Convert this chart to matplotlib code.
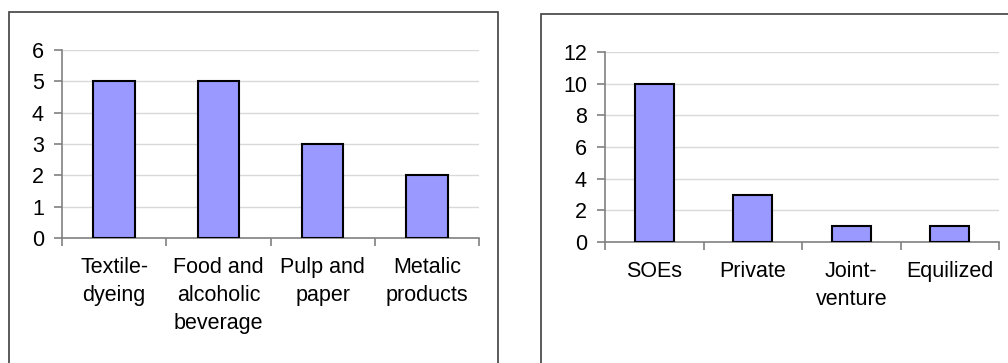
import matplotlib
matplotlib.use("Agg")
import matplotlib.pyplot as plt
from matplotlib.patches import Rectangle

plt.rcParams["font.family"] = ["Liberation Sans", "DejaVu Sans"]

# left chart: industries
industries = ["Textile-\ndyeing", "Food and\nalcoholic\nbeverage", "Pulp and\npaper", "Metalic\nproducts"]
industry_counts = [5, 5, 3, 2]
industry_ticks = [0, 1, 2, 3, 4, 5, 6]

# right chart: ownership
ownership = ["SOEs", "Private", "Joint-\nventure", "Equilized"]
ownership_counts = [10, 3, 1, 1]
ownership_ticks = [0, 2, 4, 6, 8, 10, 12]

W, H = 1008, 363
BAR_COLOR = "#9999FF"
GRID_COLOR = "#D9D9D9"
AXIS_COLOR = "#808080"
FS = 15.5


def px_axes(fig, x0, y0, x1, y1):
    # pixel box (top-left origin) -> figure fraction
    return fig.add_axes([x0 / W, 1 - y1 / H, (x1 - x0) / W, (y1 - y0) / H])


def draw_bars(ax, labels, values, ticks):
    n = len(labels)
    ax.bar(range(n), values, width=0.4, color=BAR_COLOR, edgecolor="black", linewidth=1.5, zorder=3)
    ax.set_xlim(-0.5, n - 0.5)
    ax.set_ylim(ticks[0], ticks[-1])
    ax.set_yticks(ticks)
    for t in ticks[1:]:
        ax.axhline(t, color=GRID_COLOR, linewidth=1, zorder=1)
    # category boundary ticks on x axis
    ax.set_xticks([i - 0.5 for i in range(n + 1)])
    ax.set_xticklabels([])
    for i, lab in enumerate(labels):
        ax.annotate(lab, (i, 0), xycoords=("data", "axes fraction"), xytext=(0, -19),
                    textcoords="offset pixels", ha="center", va="top",
                    fontsize=FS, linespacing=1.45)
    for s in ["top", "right"]:
        ax.spines[s].set_visible(False)
    for s in ["left", "bottom"]:
        ax.spines[s].set_color(AXIS_COLOR)
        ax.spines[s].set_linewidth(1.2)
    ax.tick_params(axis="both", colors=AXIS_COLOR, length=6, width=1.2, labelsize=FS, labelcolor="black")
    ax.tick_params(axis="y", pad=7)
    ax.set_facecolor("none")


fig = plt.figure(figsize=(W / 100, H / 100), dpi=100)

# outer chart frames
fig.patches.append(Rectangle((9 / W, -0.1), (498 - 9) / W, 1.1 - 12 / H, transform=fig.transFigure,
                             fill=False, edgecolor="#404040", linewidth=1.2))
fig.patches.append(Rectangle((541 / W, -0.1), 0.6, 1.1 - 14 / H, transform=fig.transFigure,
                             fill=False, edgecolor="#404040", linewidth=1.2))

ax1 = px_axes(fig, 62, 50, 479, 238)
draw_bars(ax1, industries, industry_counts, industry_ticks)

ax2 = px_axes(fig, 605, 52, 999, 242)
draw_bars(ax2, ownership, ownership_counts, ownership_ticks)

fig.savefig("out.png", dpi=100)
